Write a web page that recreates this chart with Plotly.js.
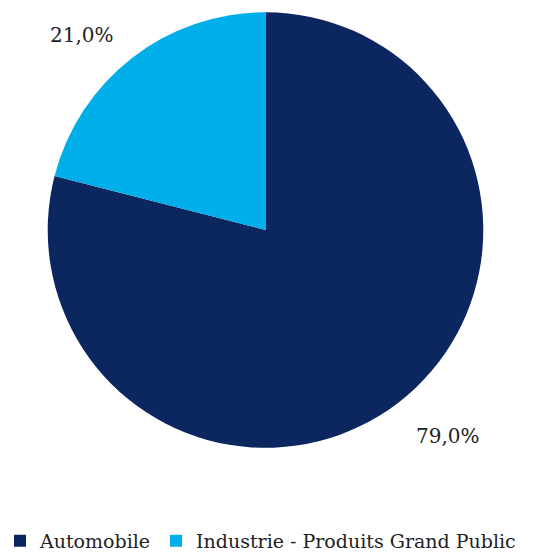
<!DOCTYPE html>
<html>
<head>
<meta charset="utf-8">
<script src="https://cdn.plot.ly/plotly-3.0.1.min.js"></script>
<style>html,body{margin:0;padding:0;background:#fff;}#chart{width:536px;height:557px;}</style>
</head>
<body>
<div id="chart"></div>
<script>
const categories = ["Automobile", "Industrie - Produits Grand Public"];
const shares = [79.0, 21.0];
const colors = ["#0c2660", "#00aeea"];
const labelPos = [[0.836, 0.217], [0.153, 0.937]];

function fmt(v) { return v.toFixed(1).replace(".", ",") + "%"; }

const trace = {
  type: "pie",
  labels: categories,
  values: shares,
  sort: false,
  direction: "clockwise",
  rotation: 0,
  domain: { x: [0.0877, 0.903], y: [0.196, 0.978] },
  marker: { colors: colors, line: { width: 0 } },
  textinfo: "none",
  hoverinfo: "label+percent"
};

const layout = {
  width: 536,
  height: 557,
  margin: { l: 0, r: 0, t: 0, b: 0, autoexpand: false },
  paper_bgcolor: "#fff",
  font: { family: "DejaVu Serif", size: 20, color: "#222" },
  showlegend: true,
  legend: {
    orientation: "h",
    x: 0.0, xanchor: "left",
    y: 0.029, yanchor: "middle",
    font: { family: "DejaVu Serif", size: 19, color: "#222" },
    itemwidth: 30,
    tracegroupgap: 0,
    traceorder: "normal"
  },
  annotations: shares.map((v, i) => ({
    text: fmt(v),
    x: labelPos[i][0], y: labelPos[i][1],
    xref: "paper", yref: "paper",
    xanchor: "center", yanchor: "middle",
    showarrow: false,
    font: { family: "DejaVu Serif", size: 20, color: "#222" }
  }))
};

Plotly.newPlot("chart", [trace], layout, { displayModeBar: false });
</script>
</body>
</html>
